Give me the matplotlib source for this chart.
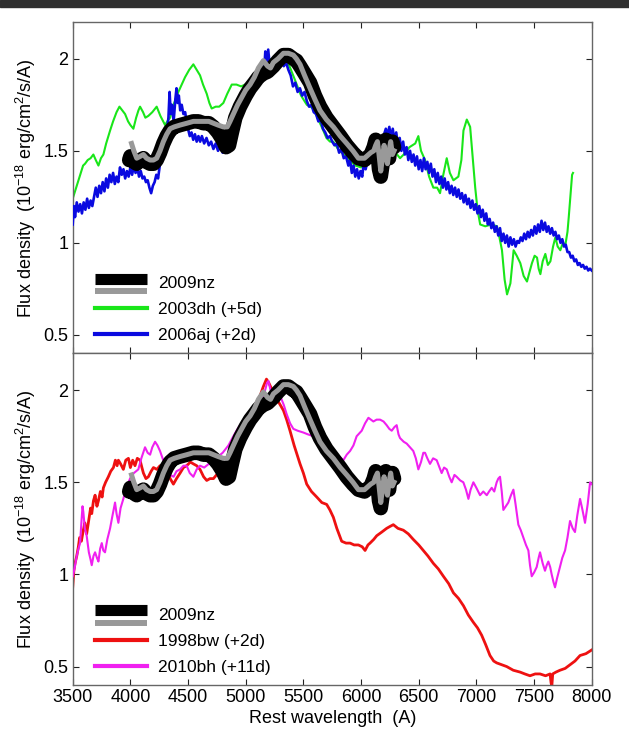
import matplotlib
matplotlib.use('Agg')
import matplotlib.pyplot as plt
import numpy as np
from matplotlib.lines import Line2D
from matplotlib.legend_handler import HandlerBase
from matplotlib.patches import Rectangle

plt.rcParams['font.family'] = ['Liberation Sans', 'DejaVu Sans']
plt.rcParams['mathtext.default'] = 'regular'

# ---------------- data (wavelength [A], flux [1e-18 erg/cm2/s/A]) ----------------
sn2009nz_smooth = [
    (4010, 1.54), (4030, 1.50), (4055, 1.46), (4085, 1.47), (4113, 1.48), (4140, 1.46),
    (4171, 1.45), (4200, 1.45), (4228, 1.46), (4257, 1.50), (4286, 1.55), (4315, 1.59),
    (4344, 1.62), (4380, 1.63), (4431, 1.64), (4490, 1.65), (4546, 1.66), (4590, 1.66),
    (4633, 1.66), (4680, 1.66), (4720, 1.65), (4760, 1.64), (4806, 1.63), (4840, 1.63),
    (4864, 1.66), (4893, 1.70), (4930, 1.75), (4965, 1.79), (5000, 1.83), (5038, 1.86),
    (5075, 1.90), (5110, 1.95), (5153, 1.99), (5190, 1.96), (5215, 1.95), (5240, 1.98),
    (5280, 2.00), (5327, 2.03), (5370, 2.03), (5413, 2.02), (5440, 2.00), (5471, 1.97),
    (5510, 1.91), (5558, 1.84), (5600, 1.78), (5644, 1.72), (5700, 1.67), (5760, 1.63),
    (5820, 1.58), (5876, 1.54), (5930, 1.50), (5977, 1.46), (6030, 1.46), (6084, 1.49),
    (6110, 1.50), (6127, 1.53), (6142, 1.55), (6156, 1.48), (6171, 1.39), (6185, 1.46),
    (6200, 1.53), (6215, 1.47), (6229, 1.43), (6243, 1.50), (6257, 1.55), (6272, 1.48),
    (6286, 1.50),
]
sn2009nz_raw = [
    (3990, 1.45), (4000, 1.47), (4030, 1.44), (4055, 1.43), (4085, 1.45), (4113, 1.46),
    (4140, 1.44), (4171, 1.43), (4200, 1.43), (4228, 1.45), (4257, 1.49), (4286, 1.54),
    (4315, 1.58), (4344, 1.61), (4380, 1.63), (4431, 1.64), (4490, 1.65), (4546, 1.66),
    (4590, 1.66), (4633, 1.65), (4680, 1.65), (4720, 1.63), (4760, 1.60), (4800, 1.56),
    (4830, 1.52), (4855, 1.53), (4880, 1.60), (4910, 1.68), (4950, 1.74), (5000, 1.80),
    (5038, 1.84), (5075, 1.87), (5110, 1.90), (5153, 1.92), (5190, 1.93), (5240, 1.96),
    (5280, 1.99), (5327, 2.02), (5370, 2.02), (5413, 2.00), (5440, 1.99), (5471, 1.96),
    (5510, 1.92), (5558, 1.87), (5600, 1.80), (5644, 1.74), (5700, 1.68), (5760, 1.63),
    (5820, 1.58), (5876, 1.53), (5930, 1.49), (5977, 1.46), (6030, 1.45), (6084, 1.48),
    (6110, 1.52), (6127, 1.56), (6142, 1.50), (6156, 1.40), (6171, 1.36), (6185, 1.42),
    (6200, 1.52), (6215, 1.56), (6229, 1.48), (6243, 1.46), (6257, 1.54), (6272, 1.55),
    (6286, 1.52),
]
sn2003dh = [
    (3500, 1.24), (3530, 1.30), (3560, 1.36), (3590, 1.42), (3607, 1.43), (3630, 1.45),
    (3655, 1.46), (3679, 1.48), (3700, 1.45), (3723, 1.42), (3745, 1.46), (3766, 1.48),
    (3790, 1.54), (3824, 1.61), (3850, 1.66), (3880, 1.71), (3905, 1.74), (3930, 1.72),
    (3954, 1.70), (3980, 1.66), (4000, 1.64), (4026, 1.62), (4050, 1.68), (4070, 1.72),
    (4084, 1.74), (4110, 1.71), (4130, 1.68), (4156, 1.69), (4190, 1.71), (4228, 1.74),
    (4260, 1.69), (4301, 1.64), (4320, 1.66), (4344, 1.68), (4380, 1.76), (4416, 1.82),
    (4445, 1.86), (4474, 1.90), (4510, 1.94), (4546, 1.97), (4575, 1.94), (4604, 1.91),
    (4630, 1.86), (4662, 1.81), (4685, 1.76), (4705, 1.73), (4740, 1.74), (4770, 1.74),
    (4806, 1.76), (4840, 1.81), (4879, 1.86), (4920, 1.86), (4960, 1.85), (4994, 1.86),
    (5030, 1.87), (5080, 1.92), (5130, 1.96), (5180, 1.99), (5230, 2.00), (5280, 2.01),
    (5330, 2.00), (5380, 1.96), (5430, 1.88), (5480, 1.80), (5530, 1.75), (5587, 1.73),
    (5630, 1.67), (5673, 1.61), (5700, 1.57), (5731, 1.55), (5760, 1.55), (5800, 1.51),
    (5850, 1.48), (5900, 1.45), (5950, 1.42), (6000, 1.41), (6050, 1.44), (6100, 1.48),
    (6150, 1.50), (6200, 1.52), (6250, 1.50), (6300, 1.49), (6338, 1.46), (6370, 1.48),
    (6420, 1.52), (6470, 1.54), (6497, 1.58), (6520, 1.50), (6555, 1.45), (6590, 1.36),
    (6627, 1.30), (6660, 1.30), (6685, 1.27), (6710, 1.36), (6743, 1.46), (6770, 1.38),
    (6801, 1.34), (6844, 1.36), (6870, 1.45), (6888, 1.61), (6917, 1.67), (6946, 1.63),
    (6970, 1.45), (6990, 1.30), (7010, 1.18), (7033, 1.10), (7077, 1.09), (7130, 1.10),
    (7179, 1.09), (7200, 1.03), (7222, 0.96), (7245, 0.80), (7266, 0.72), (7295, 0.78),
    (7323, 0.96), (7350, 0.93), (7381, 0.89), (7410, 0.82), (7439, 0.79), (7460, 0.84),
    (7482, 0.89), (7505, 0.93), (7526, 0.92), (7540, 0.86), (7555, 0.83), (7575, 0.90),
    (7598, 0.94), (7620, 0.88), (7642, 0.90), (7665, 0.98), (7685, 1.03), (7705, 0.98),
    (7728, 0.96), (7750, 1.00), (7772, 0.99), (7790, 1.06), (7801, 1.14), (7815, 1.25),
    (7830, 1.37), (7838, 1.38),
]
sn2006aj = [
    (3500, 1.10), (3510, 1.20), (3520, 1.14), (3535, 1.22), (3550, 1.17), (3565, 1.21),
    (3580, 1.16), (3595, 1.22), (3610, 1.18), (3625, 1.24), (3640, 1.19), (3655, 1.23),
    (3670, 1.20), (3685, 1.25), (3700, 1.30), (3715, 1.25), (3730, 1.31), (3745, 1.27),
    (3760, 1.33), (3775, 1.28), (3790, 1.35), (3805, 1.30), (3820, 1.37), (3835, 1.33),
    (3850, 1.38), (3865, 1.32), (3880, 1.36), (3895, 1.33), (3910, 1.41), (3925, 1.37),
    (3940, 1.40), (3955, 1.35), (3970, 1.39), (3985, 1.36), (4000, 1.41), (4015, 1.37),
    (4030, 1.42), (4045, 1.38), (4060, 1.41), (4075, 1.36), (4090, 1.39), (4105, 1.35),
    (4120, 1.36), (4135, 1.33), (4150, 1.34), (4165, 1.30), (4180, 1.27), (4195, 1.31),
    (4210, 1.33), (4225, 1.37), (4240, 1.35), (4255, 1.42), (4270, 1.45), (4285, 1.50),
    (4300, 1.56), (4315, 1.60), (4330, 1.68), (4340, 1.82), (4350, 1.70), (4360, 1.75),
    (4375, 1.66), (4390, 1.78), (4400, 1.84), (4410, 1.76), (4420, 1.80), (4432, 1.72),
    (4445, 1.75), (4460, 1.70), (4475, 1.71), (4488, 1.65), (4500, 1.62), (4515, 1.58),
    (4530, 1.60), (4545, 1.56), (4560, 1.59), (4575, 1.55), (4590, 1.58), (4605, 1.55),
    (4620, 1.58), (4640, 1.54), (4660, 1.57), (4680, 1.53), (4700, 1.55), (4720, 1.51),
    (4740, 1.54), (4760, 1.50), (4780, 1.53), (4800, 1.49), (4820, 1.53), (4840, 1.50),
    (4860, 1.56), (4880, 1.62), (4900, 1.67), (4920, 1.72), (4940, 1.76), (4960, 1.80),
    (4980, 1.79), (5000, 1.84), (5020, 1.86), (5040, 1.85), (5060, 1.89), (5080, 1.88),
    (5100, 1.93), (5120, 1.91), (5140, 1.96), (5160, 1.93), (5170, 2.04), (5182, 1.96),
    (5195, 2.05), (5210, 1.95), (5230, 1.97), (5250, 1.95), (5270, 1.99), (5290, 1.96),
    (5310, 1.99), (5330, 1.96), (5350, 1.98), (5370, 1.94), (5390, 1.91), (5410, 1.85),
    (5430, 1.87), (5450, 1.82), (5470, 1.84), (5490, 1.80), (5510, 1.82), (5530, 1.77),
    (5550, 1.74), (5570, 1.75), (5590, 1.71), (5610, 1.70), (5630, 1.66), (5650, 1.67),
    (5670, 1.62), (5690, 1.60), (5710, 1.57), (5730, 1.58), (5750, 1.55), (5770, 1.53),
    (5790, 1.54), (5810, 1.49), (5830, 1.51), (5850, 1.46), (5870, 1.47), (5890, 1.42),
    (5905, 1.45), (5920, 1.38), (5935, 1.42), (5950, 1.36), (5965, 1.40), (5980, 1.35),
    (5995, 1.39), (6010, 1.36), (6025, 1.44), (6040, 1.40), (6060, 1.46), (6080, 1.44),
    (6100, 1.50), (6120, 1.52), (6140, 1.48), (6160, 1.54), (6180, 1.56), (6200, 1.59),
    (6215, 1.62), (6230, 1.58), (6245, 1.63), (6260, 1.57), (6275, 1.62), (6290, 1.55),
    (6305, 1.60), (6320, 1.53), (6335, 1.57), (6350, 1.50), (6365, 1.55), (6380, 1.48),
    (6395, 1.52), (6410, 1.45), (6425, 1.50), (6440, 1.44), (6455, 1.48), (6470, 1.42),
    (6485, 1.47), (6500, 1.40), (6515, 1.45), (6530, 1.39), (6545, 1.46), (6560, 1.40),
    (6575, 1.44), (6590, 1.38), (6605, 1.43), (6620, 1.36), (6635, 1.40), (6650, 1.33),
    (6665, 1.38), (6680, 1.32), (6695, 1.36), (6710, 1.30), (6725, 1.35), (6740, 1.29),
    (6755, 1.33), (6770, 1.27), (6785, 1.31), (6800, 1.26), (6815, 1.30), (6830, 1.25),
    (6845, 1.29), (6860, 1.24), (6875, 1.27), (6890, 1.22), (6905, 1.26), (6920, 1.21),
    (6935, 1.24), (6950, 1.19), (6965, 1.23), (6980, 1.18), (6995, 1.21), (7010, 1.16),
    (7025, 1.20), (7040, 1.14), (7055, 1.18), (7070, 1.12), (7085, 1.16), (7100, 1.10),
    (7115, 1.13), (7130, 1.08), (7145, 1.11), (7160, 1.06), (7175, 1.09), (7190, 1.04),
    (7205, 1.08), (7220, 1.01), (7235, 1.05), (7250, 1.00), (7265, 1.04), (7280, 0.98),
    (7295, 1.03), (7310, 0.99), (7325, 1.02), (7340, 0.98), (7355, 1.01), (7370, 1.00),
    (7385, 1.03), (7400, 1.01), (7415, 1.05), (7430, 1.02), (7445, 1.06), (7460, 1.03),
    (7475, 1.07), (7490, 1.04), (7505, 1.09), (7520, 1.05), (7535, 1.10), (7550, 1.06),
    (7565, 1.12), (7580, 1.07), (7595, 1.11), (7610, 1.06), (7625, 1.09), (7640, 1.05),
    (7655, 1.08), (7670, 1.04), (7685, 1.06), (7700, 1.02), (7715, 1.04), (7730, 1.00),
    (7745, 1.02), (7760, 0.98), (7775, 0.99), (7790, 0.95), (7805, 0.95), (7820, 0.92),
    (7835, 0.93), (7850, 0.90), (7865, 0.91), (7880, 0.88), (7895, 0.89), (7910, 0.87),
    (7925, 0.88), (7940, 0.86), (7955, 0.87), (7970, 0.85), (7985, 0.86), (8000, 0.85),
]
sn1998bw = [
    (3500, 0.93), (3510, 1.02), (3520, 1.06), (3535, 1.10), (3549, 1.15), (3560, 1.20),
    (3575, 1.18), (3592, 1.24), (3605, 1.28), (3621, 1.22), (3640, 1.30), (3655, 1.36),
    (3665, 1.33), (3680, 1.40), (3694, 1.43), (3710, 1.37), (3723, 1.40), (3740, 1.45),
    (3755, 1.42), (3766, 1.47), (3785, 1.50), (3809, 1.53), (3830, 1.56), (3853, 1.58),
    (3870, 1.62), (3885, 1.59), (3896, 1.62), (3915, 1.60), (3939, 1.57), (3960, 1.62),
    (3983, 1.63), (4000, 1.58), (4020, 1.62), (4040, 1.59), (4060, 1.63), (4084, 1.62),
    (4100, 1.58), (4113, 1.55), (4135, 1.52), (4156, 1.53), (4180, 1.56), (4200, 1.58),
    (4230, 1.57), (4257, 1.59), (4290, 1.58), (4315, 1.57), (4345, 1.52), (4373, 1.49),
    (4400, 1.52), (4431, 1.55), (4460, 1.58), (4488, 1.59), (4520, 1.61), (4546, 1.60),
    (4575, 1.59), (4604, 1.57), (4635, 1.53), (4662, 1.51), (4690, 1.52), (4720, 1.52),
    (4760, 1.55), (4800, 1.58), (4850, 1.62), (4900, 1.70), (4950, 1.78), (5000, 1.84),
    (5050, 1.89), (5100, 1.94), (5125, 1.97), (5153, 2.02), (5180, 2.06), (5200, 2.04),
    (5230, 2.00), (5260, 1.96), (5290, 1.93), (5327, 1.89), (5355, 1.84), (5384, 1.78),
    (5420, 1.70), (5450, 1.64), (5471, 1.60), (5500, 1.55), (5529, 1.49), (5570, 1.45),
    (5616, 1.42), (5660, 1.39), (5702, 1.38), (5730, 1.35), (5760, 1.31), (5790, 1.25),
    (5832, 1.18), (5870, 1.17), (5905, 1.17), (5940, 1.16), (5977, 1.16), (6010, 1.15),
    (6035, 1.13), (6060, 1.16), (6078, 1.17), (6110, 1.19), (6136, 1.21), (6180, 1.23),
    (6222, 1.25), (6250, 1.26), (6280, 1.27), (6320, 1.25), (6367, 1.24), (6410, 1.22),
    (6453, 1.19), (6500, 1.16), (6540, 1.13), (6580, 1.10), (6627, 1.06), (6670, 1.03),
    (6714, 0.99), (6760, 0.95), (6801, 0.90), (6845, 0.87), (6888, 0.83), (6930, 0.78),
    (6974, 0.74), (7010, 0.71), (7046, 0.67), (7080, 0.62), (7118, 0.56), (7150, 0.53),
    (7176, 0.52), (7220, 0.51), (7263, 0.50), (7320, 0.48), (7379, 0.47), (7420, 0.46),
    (7465, 0.45), (7510, 0.46), (7552, 0.46), (7600, 0.45), (7639, 0.46), (7648, 0.41),
    (7655, 0.40), (7662, 0.46), (7690, 0.47), (7725, 0.48), (7770, 0.49), (7812, 0.51),
    (7855, 0.53), (7899, 0.56), (7950, 0.57), (8000, 0.59),
]
sn2010bh = [
    (3500, 0.99), (3515, 1.03), (3535, 1.10), (3550, 1.14), (3564, 1.17), (3575, 1.28),
    (3585, 1.37), (3592, 1.34), (3605, 1.25), (3621, 1.21), (3640, 1.12), (3655, 1.08),
    (3665, 1.05), (3680, 1.10), (3694, 1.12), (3710, 1.09), (3723, 1.07), (3738, 1.14),
    (3752, 1.17), (3765, 1.13), (3780, 1.12), (3800, 1.19), (3824, 1.25), (3845, 1.32),
    (3867, 1.39), (3880, 1.33), (3896, 1.28), (3915, 1.36), (3939, 1.41), (3965, 1.47),
    (3997, 1.52), (4030, 1.55), (4069, 1.57), (4095, 1.63), (4127, 1.69), (4150, 1.66),
    (4171, 1.65), (4190, 1.69), (4214, 1.72), (4235, 1.70), (4257, 1.67), (4285, 1.62),
    (4315, 1.58), (4345, 1.54), (4375, 1.53), (4400, 1.56), (4431, 1.57), (4460, 1.59),
    (4488, 1.59), (4515, 1.55), (4546, 1.53), (4575, 1.57), (4604, 1.59), (4640, 1.58),
    (4680, 1.60), (4720, 1.62), (4760, 1.64), (4800, 1.66), (4850, 1.70), (4893, 1.75),
    (4920, 1.78), (4950, 1.81), (5000, 1.84), (5038, 1.86), (5080, 1.89), (5125, 1.93),
    (5160, 1.98), (5185, 2.04), (5197, 2.05), (5215, 2.00), (5240, 1.98), (5270, 1.98),
    (5298, 1.97), (5330, 1.92), (5355, 1.87), (5385, 1.82), (5413, 1.79), (5450, 1.78),
    (5500, 1.77), (5540, 1.76), (5587, 1.75), (5616, 1.73), (5670, 1.70), (5731, 1.67),
    (5790, 1.65), (5847, 1.62), (5876, 1.65), (5905, 1.67), (5934, 1.70), (5962, 1.75),
    (6006, 1.78), (6035, 1.82), (6064, 1.85), (6085, 1.84), (6107, 1.83), (6135, 1.84),
    (6165, 1.84), (6195, 1.83), (6222, 1.81), (6245, 1.79), (6266, 1.78), (6290, 1.80),
    (6309, 1.81), (6325, 1.76), (6338, 1.74), (6370, 1.72), (6396, 1.71), (6425, 1.69),
    (6453, 1.67), (6475, 1.63), (6497, 1.57), (6520, 1.61), (6540, 1.66), (6555, 1.66),
    (6575, 1.63), (6598, 1.60), (6625, 1.63), (6656, 1.62), (6680, 1.58), (6699, 1.55),
    (6720, 1.58), (6743, 1.57), (6765, 1.53), (6786, 1.50), (6810, 1.54), (6829, 1.53),
    (6860, 1.51), (6887, 1.50), (6910, 1.46), (6931, 1.41), (6950, 1.46), (6974, 1.50),
    (7000, 1.47), (7032, 1.43), (7060, 1.45), (7090, 1.43), (7110, 1.45), (7133, 1.47),
    (7155, 1.45), (7176, 1.50), (7190, 1.52), (7205, 1.53), (7220, 1.45), (7234, 1.35),
    (7255, 1.37), (7277, 1.39), (7300, 1.43), (7321, 1.46), (7340, 1.38), (7364, 1.27),
    (7385, 1.24), (7408, 1.20), (7430, 1.16), (7451, 1.13), (7465, 1.05), (7480, 0.99),
    (7500, 1.01), (7523, 1.04), (7540, 1.09), (7552, 1.12), (7575, 1.06), (7595, 1.02),
    (7610, 1.05), (7624, 1.07), (7640, 1.04), (7653, 1.00), (7668, 0.96), (7682, 0.93),
    (7700, 0.98), (7725, 1.04), (7745, 1.09), (7769, 1.13), (7790, 1.20), (7812, 1.29),
    (7835, 1.25), (7855, 1.23), (7875, 1.32), (7899, 1.41), (7920, 1.35), (7942, 1.28),
    (7965, 1.38), (7986, 1.50), (8000, 1.49),
]

xticks = [3500, 4000, 4500, 5000, 5500, 6000, 6500, 7000, 7500, 8000]
yticks = [0.5, 1, 1.5, 2]
xlim = (3500, 8000)
ylim = (0.4, 2.2)

top_labels = ['2009nz', '2003dh (+5d)', '2006aj (+2d)']
bottom_labels = ['2009nz', '1998bw (+2d)', '2010bh (+11d)']

GREEN = '#19e619'
BLUE = '#0a0ae0'
RED = '#ee1111'
MAGENTA = '#f020f0'
GRAY = '#999999'


def xy(series):
    a = np.array(series, dtype=float)
    return a[:, 0], a[:, 1]


class NzHandler(HandlerBase):
    def create_artists(self, legend, orig_handle, xdescent, ydescent,
                       width, height, fontsize, trans):
        yc = height / 2.0 - ydescent
        x = [-xdescent, width - xdescent]
        l1 = Line2D(x, [yc + 2.5, yc + 2.5], color='black', lw=8,
                    solid_capstyle='butt', transform=trans)
        l2 = Line2D(x, [yc - 6.5, yc - 6.5], color=GRAY, lw=4.3,
                    solid_capstyle='butt', transform=trans)
        return [l1, l2]


class NzProxy:
    pass


fig = plt.figure(figsize=(6.29, 7.33), dpi=100)
fig.patches.append(Rectangle((0, 1 - 7 / 733), 1, 7 / 733, transform=fig.transFigure,
                             color='#2f2f2f', zorder=0))

ax1 = fig.add_axes([0.1156, 0.518, 0.8251, 0.452])
ax2 = fig.add_axes([0.1156, 0.0655, 0.8251, 0.4525])

ylabel = 'Flux density  (10$^{-18}$ erg/cm$^{2}$/s/A)'

for ax in (ax1, ax2):
    ax.set_xlim(*xlim)
    ax.set_ylim(*ylim)
    ax.set_xticks(xticks)
    ax.set_yticks(yticks)
    ax.set_yticklabels(['0.5', '1', '1.5', '2'])
    ax.tick_params(direction='in', top=True, right=True, length=4, width=0.8,
                   labelsize=13, pad=3, color='#222222')
    for s in ax.spines.values():
        s.set_color('#666666')
        s.set_linewidth(1.0)
    ax.set_ylabel(ylabel, fontsize=13)
    ax.yaxis.set_label_coords(-0.066, 0.5)

ax1.tick_params(labelbottom=False)

# top panel
w, f = xy(sn2003dh)
ax1.plot(w, f, color=GREEN, lw=1.5, zorder=2)
w, f = xy(sn2006aj)
ax1.plot(w, f, color=BLUE, lw=1.9, zorder=3)

# bottom panel
w, f = xy(sn1998bw)
ax2.plot(w, f, color=RED, lw=2.0, zorder=2)
w, f = xy(sn2010bh)
ax2.plot(w, f, color=MAGENTA, lw=1.5, zorder=3)

for ax in (ax1, ax2):
    w, f = xy(sn2009nz_raw)
    ax.plot(w, f, color='black', lw=10.5, solid_joinstyle='round',
            solid_capstyle='round', zorder=4)
    w, f = xy(sn2009nz_smooth)
    ax.plot(w, f, color=GRAY, lw=3.6, zorder=5)

ax2.set_xlabel('Rest wavelength  (A)', fontsize=13, labelpad=3)

h_top = [NzProxy(), Line2D([], [], color=GREEN, lw=3), Line2D([], [], color=BLUE, lw=3)]
h_bot = [NzProxy(), Line2D([], [], color=RED, lw=3), Line2D([], [], color=MAGENTA, lw=3)]

for ax, hs, labs in ((ax1, h_top, top_labels), (ax2, h_bot, bottom_labels)):
    ax.legend(hs, labs, loc='lower left', bbox_to_anchor=(0.043, 0.03),
              frameon=False, fontsize=12.5, handlelength=3.0, handletextpad=0.63,
              labelspacing=0.63, borderpad=0, borderaxespad=0,
              handler_map={NzProxy: NzHandler()})

fig.savefig('out.png', dpi=100)
